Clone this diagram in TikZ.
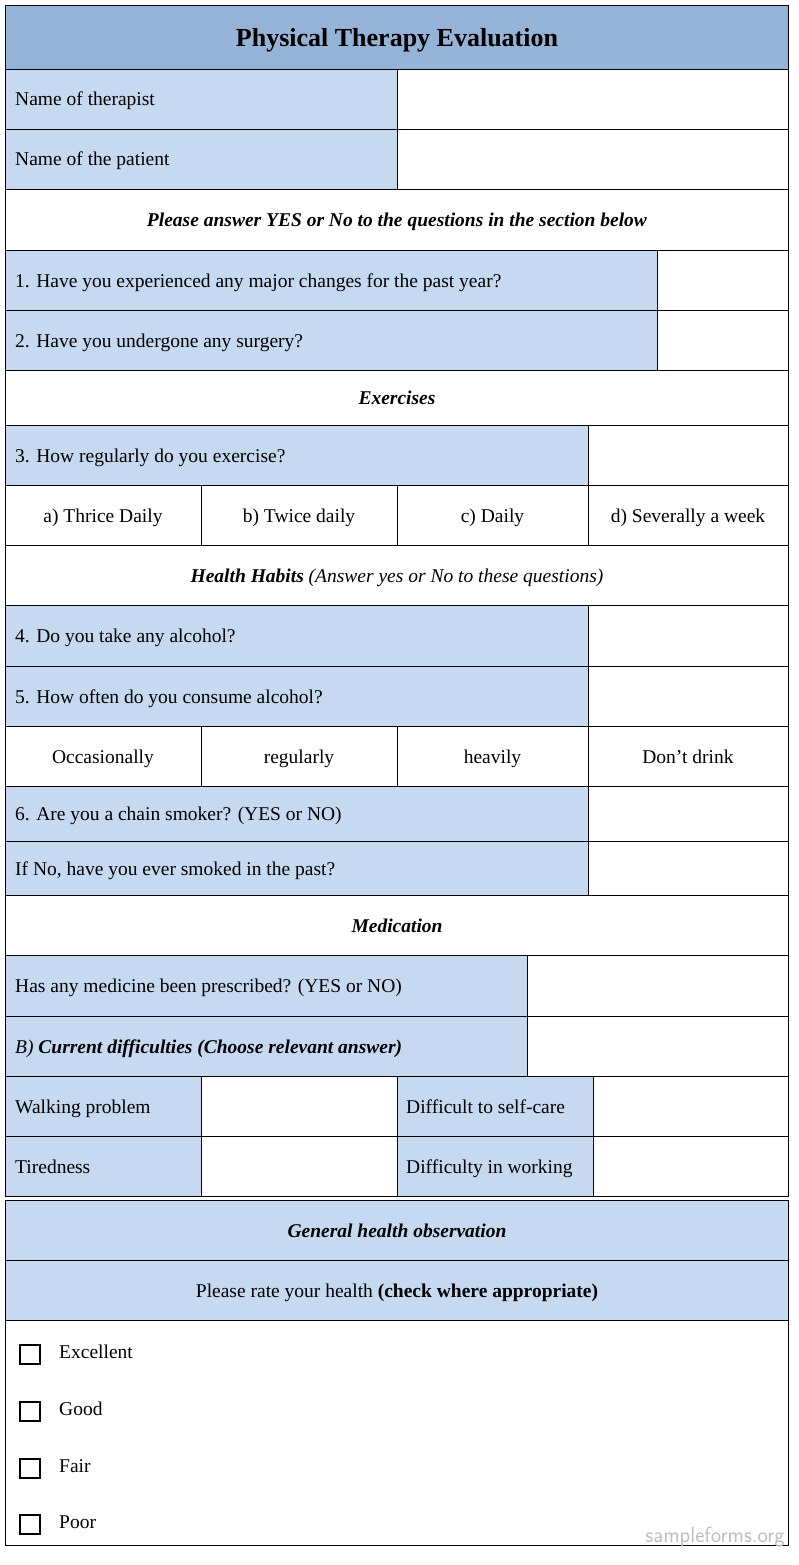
\documentclass[tikz,border=0pt]{standalone}
\usepackage{fontspec}
\setmainfont{Liberation Serif}
\usetikzlibrary{positioning}
\definecolor{headblue}{RGB}{149,179,215}
\definecolor{cellblue}{RGB}{198,217,241}
\tikzset{
  cell/.style={draw=black, line width=0.8pt},
  bluecell/.style={cell, fill=cellblue},
  lefttext/.style={anchor=base west, inner sep=0pt, font=\fontsize{19.5}{22}\selectfont},
  midtext/.style={anchor=base, inner sep=0pt, font=\fontsize{19.5}{22}\selectfont},
  tick/.style={draw=black, line width=1.4pt},
}
% row with blue question part and white answer part
\newcommand{\qrow}[5]{% name, top, bottom, split, text
  \draw[bluecell] (5,#2) rectangle (#4,#3);
  \draw[cell] (#4,#2) rectangle (788,#3);
  \node[lefttext] (#1) at (15,{(#2+#3)/2+7}) {#5};
}
\newcommand{\hrow}[4]{% name, top, bottom, text
  \draw[cell] (5,#2) rectangle (788,#3);
  \node[midtext] (#1) at (397,{(#2+#3)/2+7}) {#4};
}
\begin{document}
\begin{tikzpicture}[x=1pt,y=-1pt]
  \useasboundingbox[fill=white] (0,0) rectangle (798,1565);

  % title
  \draw[cell, fill=headblue] (5,5) rectangle (788,69);
  \node[midtext, font=\fontsize{26}{29}\selectfont\bfseries] (title) at (397,47) {Physical Therapy Evaluation};

  \qrow{therapist}{69}{129}{397}{Name of therapist}
  \qrow{patient}{129}{189}{397}{Name of the patient}
  \hrow{yesno}{189}{250}{\textbf{\textit{Please answer YES or No to the questions in the section below}}}
  \qrow{qone}{250}{310}{657}{1. Have you experienced any major changes for the past year?}
  \qrow{qtwo}{310}{370}{657}{2. Have you undergone any surgery?}
  \hrow{exercises}{370}{425}{\textbf{\textit{Exercises}}}
  \qrow{qthree}{425}{485}{588}{3. How regularly do you exercise?}

  % exercise options
  \foreach \l/\r/\t [count=\i] in {5/201/a) Thrice Daily, 201/397/b) Twice daily, 397/588/c) Daily, 588/788/d) Severally a week}{
    \draw[cell] (\l,485) rectangle (\r,545);
    \node[midtext] (exopt\i) at ({(\l+\r)/2},522) {\t};
  }

  \hrow{habits}{545}{605}{\textbf{\textit{Health Habits}} \textit{(Answer yes or No to these questions)}}
  \qrow{qfour}{605}{666}{588}{4. Do you take any alcohol?}
  \qrow{qfive}{666}{726}{588}{5. How often do you consume alcohol?}

  % alcohol options
  \foreach \l/\r/\t [count=\i] in {5/201/Occasionally, 201/397/regularly, 397/588/heavily, 588/788/Don’t drink}{
    \draw[cell] (\l,726) rectangle (\r,786);
    \node[midtext] (alopt\i) at ({(\l+\r)/2},763) {\t};
  }

  \qrow{qsix}{786}{841}{588}{6. Are you a chain smoker? (YES or NO)}
  \qrow{past}{841}{895}{588}{If No, have you ever smoked in the past?}
  \hrow{medication}{895}{955}{\textbf{\textit{Medication}}}
  \qrow{medicine}{955}{1016}{527}{Has any medicine been prescribed? (YES or NO)}
  \qrow{difficult}{1016}{1076}{527}{\textit{B)} \textbf{\textit{Current difficulties (Choose relevant answer)}}}

  % difficulties grid
  \foreach \y/\a/\b [count=\i] in {1076/Walking problem/Difficult to self-care, 1136/Tiredness/Difficulty in working}{
    \draw[bluecell] (5,\y) rectangle (201,\y+60);
    \draw[cell] (201,\y) rectangle (397,\y+60);
    \draw[bluecell] (397,\y) rectangle (593,\y+60);
    \draw[cell] (593,\y) rectangle (788,\y+60);
    \node[lefttext] (diffa\i) at (15,\y+37) {\a};
    \node[lefttext] (diffb\i) at (406,\y+37) {\b};
  }

  % general health
  \draw[bluecell] (5,1200) rectangle (788,1260);
  \node[midtext] (general) at (397,1237) {\textbf{\textit{General health observation}}};
  \draw[bluecell] (5,1260) rectangle (788,1320);
  \node[midtext] (rate) at (397,1297) {Please rate your health \textbf{(check where appropriate)}};
  \draw[cell] (5,1320) rectangle (788,1545);
  \foreach \y/\t [count=\i] in {1353/Excellent, 1410/Good, 1467/Fair, 1523/Poor}{
    \draw[tick] (20,\y-8) rectangle (40,\y+11);
    \node[lefttext] (rating\i) at (59,\y+5) {\t};
  }

  \node[anchor=east, inner sep=0pt, text=black!25, font=\fontsize{22}{24}\selectfont\sffamily] (mark) at (785,1537) {sampleforms.org};
\end{tikzpicture}
\end{document}
